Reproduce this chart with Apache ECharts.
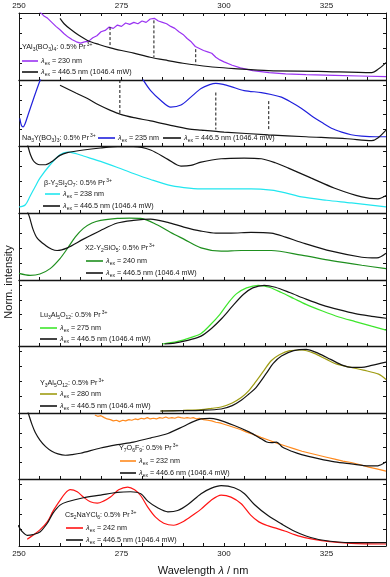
<!DOCTYPE html>
<html>
<head>
<meta charset="utf-8">
<script src="https://cdn.jsdelivr.net/npm/echarts@6/dist/echarts.min.js"></script>
<style>
html, body { margin: 0; padding: 0; background: #fff; }
#chart { width: 390px; height: 577px; }
</style>
</head>
<body>
<div id="chart"></div>
<script>
// wavelength axis
const xTicks = [250, 275, 300, 325];

// YAl3(BO3)4
const yabExc = [[253.5,1.12],[255,1.02],[256,0.96],[257,0.92],[258,0.86],[259,0.80],[260,0.75],[261,0.69],[262,0.64],[263,0.60],[264,0.57],[265,0.55],[266,0.57],[267,0.58],[268,0.63],[269,0.66],[270,0.72],[271,0.74],[272,0.79],[273,0.77],[274,0.82],[275,0.80],[276,0.85],[277,0.83],[278,0.86],[279,0.84],[280,0.88],[281,0.86],[282,0.91],[283,0.92],[284,0.88],[285,0.86],[286,0.84],[287,0.80],[288,0.77],[289,0.72],[290,0.68],[291,0.62],[292,0.57],[293,0.50],[294,0.47],[295,0.44],[296,0.42],[297,0.40],[298,0.34],[299,0.30],[300,0.27],[302,0.22],[304,0.18],[307,0.14],[311,0.11],[315,0.09],[320,0.08],[327,0.07],[333,0.06],[339.5,0.05]];
const yabEm = [[260,0.92],[261,0.84],[262.5,0.76],[264.5,0.67],[266.7,0.59],[269.5,0.53],[272.3,0.48],[275,0.44],[278,0.40],[282,0.34],[286.3,0.29],[290,0.25],[293.6,0.22],[298,0.19],[302.5,0.17],[310.8,0.14],[323,0.13],[336,0.11],[337.8,0.17],[339.5,0.26]];
const yabDrops = [[272.2,0.79,0.50],[282.9,0.89,0.34],[293.1,0.46,0.23]];

// Na3Y(BO3)3
const naybExc = [[250.2,0.42],[250.6,0.31],[251.0,0.29],[251.5,0.34],[252.2,0.47],[253.4,0.69],[254.7,0.92],[255.5,1.05],[256.5,1.25],[260,1.5],[270,1.5],[277,1.3],[279.5,1.1],[280.4,0.99],[282.1,0.84],[284.6,0.69],[287,0.59],[289.5,0.62],[291.9,0.74],[294.4,0.87],[296.5,0.93],[298,0.95],[300,0.93],[301.7,0.90],[304.9,0.84],[309.1,0.81],[311.5,0.78],[314,0.74],[316.5,0.66],[318.9,0.57],[321.3,0.46],[323.8,0.36],[326.2,0.27],[328.7,0.21],[331,0.17],[333.6,0.15],[337,0.14],[339.5,0.14]];
const naybEm = [[260,0.92],[262,0.86],[264,0.80],[266.7,0.72],[269.5,0.62],[272.3,0.54],[274.8,0.48],[278,0.43],[282.1,0.38],[286.5,0.32],[291.2,0.26],[294.4,0.24],[300,0.21],[310.8,0.17],[320,0.14],[330,0.11],[336,0.08],[337.5,0.12],[339.5,0.24]];
const naybDrops = [[274.6,1.0,0.47],[298.0,0.81,0.25],[310.9,0.68,0.24]];

// beta-Y2Si2O7
const bysExc = [[250,0.09],[251.5,0.12],[252.7,0.25],[254,0.40],[255.1,0.52],[257.6,0.72],[260,0.87],[261.8,0.91],[263.7,0.89],[265.7,0.85],[269.9,0.77],[274,0.68],[277.9,0.59],[282.1,0.50],[286.3,0.42],[290.2,0.38],[294.4,0.36],[300,0.36],[306.6,0.36],[311.5,0.34],[315,0.30],[318.9,0.24],[325,0.19],[331.1,0.15],[339.5,0.09]];
const bysEm = [[251.8,1.1],[252.3,0.97],[252.8,0.87],[253.5,0.78],[254.2,0.74],[255.1,0.72],[256.5,0.72],[258.3,0.78],[260,0.86],[261.8,0.90],[265.7,0.94],[269.9,0.97],[274,0.99],[277.9,0.99],[282.1,0.94],[286.3,0.80],[289.5,0.70],[291.9,0.71],[294.4,0.76],[299.3,0.81],[304.9,0.82],[309.1,0.81],[312.5,0.75],[315.7,0.67],[321.3,0.52],[327,0.37],[333.6,0.24],[337.5,0.21],[339.5,0.26]];

// X2-Y2SiO5
const xysExc = [[250,0.10],[252.7,0.07],[255.1,0.09],[257.6,0.17],[260,0.32],[261.8,0.47],[263.7,0.64],[265.7,0.77],[267.8,0.85],[269.9,0.89],[274,0.92],[277,0.925],[279.7,0.92],[283.8,0.82],[287,0.71],[290.2,0.61],[294.4,0.48],[299.3,0.43],[304.2,0.44],[311.5,0.44],[318.9,0.37],[326.2,0.29],[333.6,0.22],[339.5,0.17]];
const xysEm = [[251.5,1.1],[252.5,0.95],[253.4,0.76],[254.4,0.63],[256.4,0.52],[258,0.46],[259.3,0.44],[261.8,0.48],[265.7,0.61],[269.9,0.74],[274,0.85],[277.9,0.89],[282.1,0.91],[286.3,0.86],[290.2,0.79],[294.4,0.73],[298,0.70],[301.7,0.70],[306.6,0.71],[311.5,0.70],[315,0.64],[318.9,0.56],[326.2,0.43],[333.6,0.34],[337.3,0.33],[339.5,0.40]];

// Lu3Al5O12
const luExc = [[285,0.03],[287,0.05],[290,0.09],[292,0.13],[294.4,0.19],[296.5,0.31],[299,0.48],[301,0.65],[303,0.79],[305.5,0.88],[308.3,0.92],[311,0.89],[314,0.81],[317,0.72],[320,0.63],[324,0.53],[328,0.44],[332,0.37],[336,0.30],[339.5,0.24]];
const luEm = [[285.5,0.03],[287.5,0.04],[290,0.07],[292,0.10],[294.4,0.15],[297,0.27],[299.5,0.42],[302,0.60],[304.7,0.78],[307,0.88],[309.8,0.92],[312.5,0.89],[316,0.81],[320,0.71],[324,0.62],[328,0.55],[332,0.49],[336,0.45],[339.5,0.42]];

// Y3Al5O12
const yagExc = [[284.5,0.03],[290,0.04],[294.4,0.05],[297,0.07],[299.3,0.09],[302,0.15],[304.2,0.23],[306,0.33],[307.4,0.44],[309.8,0.64],[311.5,0.78],[313.5,0.87],[316,0.93],[319,0.94],[322,0.89],[325,0.80],[327.5,0.73],[331,0.68],[334,0.64],[337.7,0.58],[339.5,0.50]];
const yagEm = [[284.5,0.03],[290,0.035],[294.4,0.04],[299.3,0.06],[302,0.11],[304.2,0.19],[306,0.28],[307.8,0.38],[310.3,0.59],[312,0.74],[314,0.85],[317,0.93],[320,0.95],[323,0.89],[326,0.80],[329,0.71],[331,0.68],[333.5,0.68],[336,0.71],[339.5,0.76]];

// Y7O6F9
const yofExc = [[268.5,0.97],[269.2,0.95],[270,0.96],[270.8,0.93],[271.5,0.91],[272.3,0.90],[273,0.88],[273.8,0.89],[274.5,0.87],[275.3,0.89],[276,0.88],[276.8,0.90],[277.5,0.89],[278.3,0.91],[279,0.90],[279.8,0.92],[280.5,0.91],[281.3,0.93],[282,0.91],[282.8,0.92],[283.5,0.91],[284.3,0.93],[285,0.92],[285.8,0.94],[286.5,0.92],[287.3,0.93],[288,0.92],[288.8,0.94],[289.5,0.93],[290.3,0.92],[291,0.93],[291.8,0.92],[292.5,0.93],[293.3,0.91],[294,0.92],[295,0.90],[296,0.89],[297,0.88],[298,0.86],[299,0.85],[300,0.83],[301,0.81],[302.5,0.78],[304,0.75],[305.5,0.71],[307,0.68],[309,0.63],[310.8,0.59],[313,0.54],[315,0.50],[317,0.46],[319,0.42],[321,0.39],[323,0.36],[325,0.33],[327,0.30],[329,0.27],[331,0.25],[333,0.22],[335.3,0.18],[337.5,0.15],[339.5,0.12]];
const yofEm = [[251.8,1.1],[252.5,0.95],[253.2,0.82],[254,0.70],[255.1,0.59],[256.5,0.49],[258,0.42],[259.5,0.38],[261.3,0.36],[263,0.37],[265,0.39],[269.9,0.47],[274,0.52],[277.9,0.56],[282,0.62],[286.3,0.69],[290.2,0.80],[292.5,0.87],[294.4,0.91],[296.5,0.92],[298.5,0.90],[302.5,0.81],[306.2,0.71],[308.5,0.63],[310.4,0.56],[311.6,0.55],[312.8,0.56],[314.3,0.48],[316.5,0.42],[318.9,0.37],[323,0.31],[327,0.26],[331,0.23],[335.3,0.20],[337.5,0.20],[339.5,0.26]];

// Cs2NaYCl6
const cnyExc = [[252,0.10],[253.4,0.16],[255.1,0.24],[256.9,0.36],[258.3,0.52],[260,0.68],[261.3,0.79],[262.5,0.84],[264.2,0.81],[265.7,0.73],[267.4,0.66],[269.1,0.64],[270.6,0.67],[272.3,0.73],[274.3,0.84],[276.5,0.88],[278.2,0.84],[279.7,0.75],[281.4,0.58],[283.3,0.43],[285.3,0.34],[287.7,0.31],[290.2,0.37],[292.6,0.47],[294.4,0.55],[296.8,0.68],[299.3,0.76],[301.7,0.73],[304.2,0.63],[306.5,0.46],[308.5,0.36],[310.8,0.30],[313,0.26],[315,0.22],[317.2,0.17],[320,0.12],[323.8,0.08],[331,0.04],[339.5,0.03]];
const cnyEm = [[249.8,0.31],[250.7,0.22],[252,0.16],[253.4,0.17],[255.1,0.21],[256.9,0.34],[258.3,0.49],[260,0.61],[261.8,0.66],[265.7,0.72],[269.9,0.76],[274,0.80],[277.2,0.81],[279.7,0.78],[281.4,0.67],[283.8,0.57],[286.3,0.51],[288.7,0.53],[291.2,0.62],[294.4,0.78],[296.8,0.86],[299.3,0.90],[302.5,0.87],[305,0.78],[307.4,0.62],[310.8,0.45],[314,0.33],[317.2,0.22],[320,0.15],[323.8,0.09],[331,0.05],[339.5,0.05]];

// legend texts
const hostNames = [
  '{n|YAl}{s|3}{n|(BO}{s|3}{n|)}{s|4}{n|: 0.5% Pr}{p|3+}',
  '{n|Na}{s|3}{n|Y(BO}{s|3}{n|)}{s|3}{n|: 0.5% Pr}{p|3+}',
  '{n|β-Y}{s|2}{n|Si}{s|2}{n|O}{s|7}{n|: 0.5% Pr}{p|3+}',
  '{n|X2-Y}{s|2}{n|SiO}{s|5}{n|: 0.5% Pr}{p|3+}',
  '{n|Lu}{s|3}{n|Al}{s|5}{n|O}{s|12}{n|: 0.5% Pr}{p|3+}',
  '{n|Y}{s|3}{n|Al}{s|5}{n|O}{s|12}{n|: 0.5% Pr}{p|3+}',
  '{n|Y}{s|7}{n|O}{s|6}{n|F}{s|9}{n|: 0.5% Pr}{p|3+}',
  '{n|Cs}{s|2}{n|NaYCl}{s|6}{n|: 0.5% Pr}{p|3+}'
];
const excNm = ['230', '235', '238', '240', '275', '280', '232', '242'];
const emNm = ['446.5', '446.5', '446.5', '446.5', '446.5', '446.5', '446.6', '446.5'];

const FF = '"Liberation Sans", Arial, sans-serif';
const INK = '#141414';

const panels = [
  { exc: yabExc, em: yabEm, drops: yabDrops, color: '#9a33f2', smooth: false },
  { exc: naybExc, em: naybEm, drops: naybDrops, color: '#2020dc', smooth: 0.3 },
  { exc: bysExc, em: bysEm, drops: [], color: '#22e6ef', smooth: 0.3 },
  { exc: xysExc, em: xysEm, drops: [], color: '#1e8f1e', smooth: 0.3 },
  { exc: luExc, em: luEm, drops: [], color: '#3ee62c', smooth: 0.3 },
  { exc: yagExc, em: yagEm, drops: [], color: '#9f9c12', smooth: 0.3 },
  { exc: yofExc, em: yofEm, drops: [], color: '#ff8a1e', smooth: false },
  { exc: cnyExc, em: cnyEm, drops: [], color: '#ff1414', smooth: 0.3 }
];

// panel edges in px
const edges = [13, 80, 146, 213, 280, 346, 413, 479, 546];

// legend placement: title [x, y], rows [x1, x2, y]
const legendPos = [
  { t: [22, 47], rows: [[22, 38, 61], [22, 38, 72]] },
  { t: [22, 138], rows: [[98, 115, 138], [163, 181, 138]] },
  { t: [44, 183], rows: [[45, 60, 194], [43, 60, 206]] },
  { t: [85, 248], rows: [[86, 103, 261], [86, 103, 273]] },
  { t: [40, 315], rows: [[40, 57, 328], [40, 57, 339]] },
  { t: [40, 383], rows: [[40, 57, 394], [40, 57, 406]] },
  { t: [119, 448], rows: [[120, 136, 461], [120, 136, 473]] },
  { t: [65, 515], rows: [[66, 83, 528], [66, 83, 540]] }
];

const rich = {
  n: { fontSize: 7.2, lineHeight: 10, fontFamily: FF, fill: INK },
  s: { fontSize: 5, lineHeight: 6, verticalAlign: 'bottom', fontFamily: FF, fill: INK },
  p: { fontSize: 5, lineHeight: 6, verticalAlign: 'top', fontFamily: FF, fill: INK, padding: [0, 0, 0, 1] },
  i: { fontSize: 7.4, lineHeight: 10, fontStyle: 'italic', fontFamily: FF, fill: INK }
};

const grid = [], xAxis = [], yAxis = [], series = [], graphic = [];
const yTickVals = [0.25, 0.475, 0.7, 0.925];

panels.forEach((p, i) => {
  grid.push({ left: 19, right: 4, top: edges[i], height: edges[i + 1] - edges[i] });
  xAxis.push({
    type: 'value', gridIndex: i, min: 250, max: 339.5, interval: 5, position: 'bottom',
    axisLine: { show: true, onZero: false, lineStyle: { color: INK, width: i < 7 ? 1.4 : 1 } },
    axisTick: { show: true, inside: true, length: 3, lineStyle: { color: INK } },
    axisLabel: {
      show: i === 7, margin: 4, fontSize: 8, fontFamily: FF, color: INK,
      formatter: v => (xTicks.indexOf(v) >= 0 ? String(v) : '')
    },
    splitLine: { show: false }
  });
  yAxis.push({
    type: 'value', gridIndex: i, min: 0, max: 1, position: 'left',
    axisLine: { show: true, lineStyle: { color: INK } },
    axisTick: { show: true, inside: true, length: 3, customValues: yTickVals, lineStyle: { color: INK } },
    axisLabel: { show: false }, splitLine: { show: false }
  });

  series.push({
    type: 'line', xAxisIndex: i, yAxisIndex: i, data: p.exc, symbol: 'none',
    smooth: p.smooth, lineStyle: { color: p.color, width: 1.2 }, itemStyle: { color: p.color },
    z: 2, silent: true
  });
  series.push({
    type: 'line', xAxisIndex: i, yAxisIndex: i, data: p.em, symbol: 'none',
    smooth: 0.3, lineStyle: { color: INK, width: 1.2 }, itemStyle: { color: INK },
    z: 3, silent: true
  });
  p.drops.forEach(d => {
    series.push({
      type: 'line', xAxisIndex: i, yAxisIndex: i, data: [[d[0], d[1]], [d[0], d[2]]],
      symbol: 'none', lineStyle: { color: INK, width: 1, type: [3, 2] }, z: 4, silent: true
    });
  });

  // legend
  const L = legendPos[i];
  graphic.push({ type: 'text', x: L.t[0], y: L.t[1], style: { text: hostNames[i], rich, verticalAlign: 'middle' } });
  const labels = [
    '{i|λ}{s|ex}{n| = ' + excNm[i] + ' nm}',
    '{i|λ}{s|ex}{n| = ' + emNm[i] + ' nm (1046.4 mW)}'
  ];
  const colors = [p.color, INK];
  L.rows.forEach((r, k) => {
    graphic.push({ type: 'line', shape: { x1: r[0], y1: r[2], x2: r[1], y2: r[2] }, style: { stroke: colors[k], lineWidth: 1.6 } });
    graphic.push({ type: 'text', x: r[1] + 3, y: r[2], style: { text: labels[k], rich, verticalAlign: 'middle' } });
  });
});

// right-hand y axes (mirror ticks)
panels.forEach((p, i) => {
  yAxis.push({
    type: 'value', gridIndex: i, min: 0, max: 1, position: 'right',
    axisLine: { show: true, lineStyle: { color: INK } },
    axisTick: { show: true, inside: true, length: 3, customValues: yTickVals, lineStyle: { color: INK } },
    axisLabel: { show: false }, splitLine: { show: false }
  });
});

// top axis of the first panel
xAxis.push({
  type: 'value', gridIndex: 0, min: 250, max: 339.5, interval: 5, position: 'top',
  axisLine: { show: true, onZero: false, lineStyle: { color: INK } },
  axisTick: { show: true, inside: true, length: 3, lineStyle: { color: INK } },
  axisLabel: {
    show: true, margin: 3, fontSize: 8, fontFamily: FF, color: INK,
    formatter: v => (xTicks.indexOf(v) >= 0 ? String(v) : '')
  },
  splitLine: { show: false }
});

graphic.push({
  type: 'text', x: 203, y: 571,
  style: {
    text: '{a|Wavelength }{b|λ}{a| / nm}', align: 'center', verticalAlign: 'middle',
    rich: {
      a: { fontSize: 11, fontFamily: FF, fill: INK },
      b: { fontSize: 11, fontFamily: FF, fontStyle: 'italic', fill: INK }
    }
  }
});
graphic.push({
  type: 'text', x: 9, y: 282, rotation: Math.PI / 2,
  style: { text: 'Norm. intensity', fontSize: 11, fontFamily: FF, fill: INK, align: 'center', verticalAlign: 'middle' }
});

const chart = echarts.init(document.getElementById('chart'));
chart.setOption({
  animation: false,
  backgroundColor: '#fff',
  grid, xAxis, yAxis, series, graphic
});
</script>
</body>
</html>
